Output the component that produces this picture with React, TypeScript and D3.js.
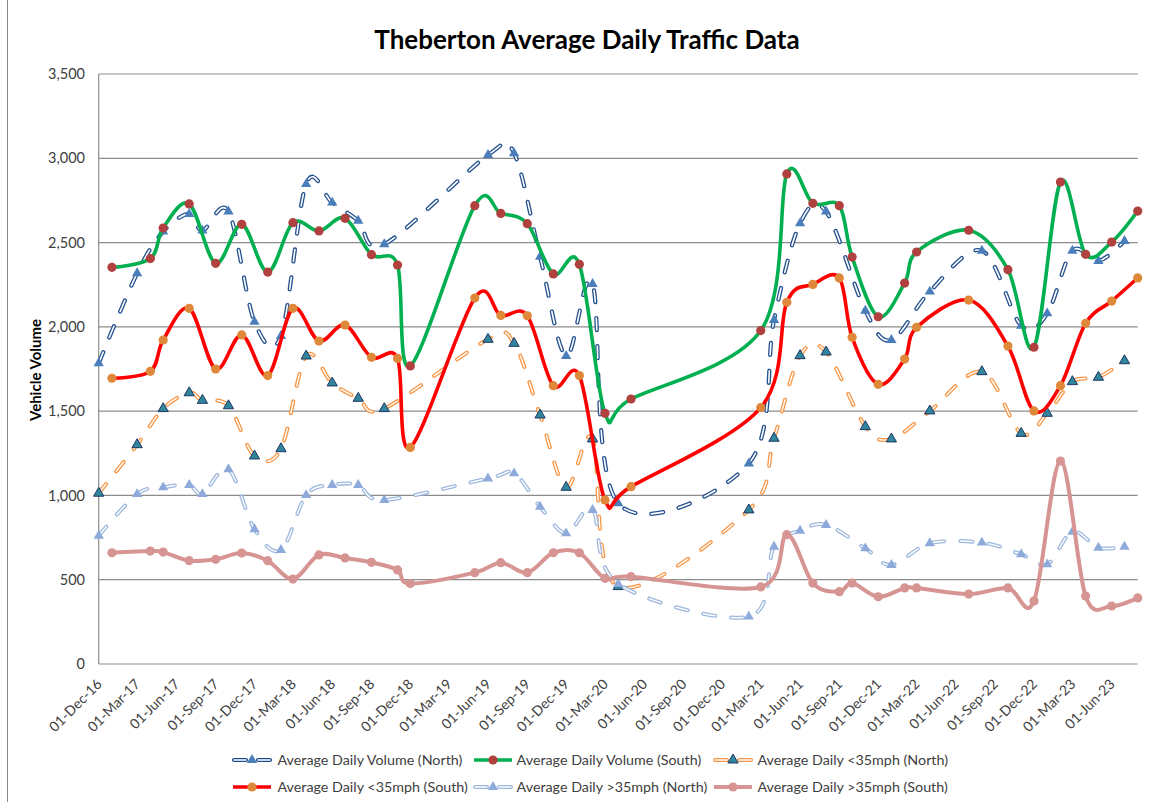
import React, { useEffect, useRef } from 'react';
import * as d3 from 'd3';

// survey dates (north counter and south counter were read on different months)
const northDates = [
  '2016-12-01', '2017-03-01', '2017-05-01', '2017-07-01', '2017-08-01', '2017-10-01',
  '2017-12-01', '2018-02-01', '2018-04-01', '2018-06-01', '2018-08-01', '2018-10-01',
  '2019-06-01', '2019-08-01', '2019-10-01', '2019-12-01', '2020-02-01', '2020-04-01',
  '2021-02-01', '2021-04-01', '2021-06-01', '2021-08-01', '2021-11-01', '2022-01-01',
  '2022-04-01', '2022-08-01', '2022-11-01', '2023-01-01', '2023-03-01', '2023-05-01',
  '2023-07-01'
];
const southDates = [
  '2017-01-01', '2017-04-01', '2017-05-01', '2017-07-01', '2017-09-01', '2017-11-01',
  '2018-01-01', '2018-03-01', '2018-05-01', '2018-07-01', '2018-09-01', '2018-11-01',
  '2018-12-01', '2019-05-01', '2019-07-01', '2019-09-01', '2019-11-01', '2020-01-01',
  '2020-03-01', '2020-05-01', '2021-03-01', '2021-05-01', '2021-07-01', '2021-09-01',
  '2021-10-01', '2021-12-01', '2022-02-01', '2022-03-01', '2022-07-01', '2022-10-01',
  '2022-12-01', '2023-02-01', '2023-04-01', '2023-06-01', '2023-08-01'
];

const northVolume = [1784, 2318, 2565, 2670, 2571, 2684, 2030, 1946, 2847, 2737, 2630, 2490,
  3020, 3030, 2416, 1827, 2254, 953, 1190, 2041, 2614, 2684, 2096, 1922, 2209, 2452, 2007,
  2080, 2452, 2391, 2509];
const southVolume = [2353, 2405, 2586, 2729, 2377, 2608, 2325, 2618, 2569, 2644, 2428, 2367,
  1768, 2719, 2673, 2612, 2314, 2371, 1487, 1572, 1978, 2907, 2733, 2719, 2414, 2060, 2260,
  2444, 2573, 2339, 1879, 2859, 2430, 2503, 2687];
const northUnder35 = [1013, 1301, 1515, 1609, 1564, 1532, 1234, 1277, 1827, 1667, 1576, 1515,
  1926, 1902, 1477, 1048, 1335, 459, 914, 1339, 1829, 1851, 1408, 1335, 1501, 1734, 1368,
  1487, 1675, 1701, 1799];
const southUnder35 = [1695, 1736, 1922, 2110, 1750, 1952, 1711, 2110, 1916, 2011, 1819, 1813,
  1285, 2171, 2068, 2066, 1651, 1711, 973, 1052, 1521, 2146, 2252, 2290, 1938, 1659, 1809,
  1997, 2159, 1886, 1501, 1651, 2021, 2153, 2290];
const northOver35 = [761, 1008, 1048, 1062, 1008, 1155, 799, 676, 1002, 1062, 1062, 973,
  1101, 1131, 933, 775, 914, 475, 281, 696, 791, 825, 686, 587, 716, 720, 651, 591, 785,
  690, 696];
const southOver35 = [660, 670, 664, 613, 621, 658, 613, 504, 647, 629, 603, 558, 477, 542,
  601, 542, 660, 660, 508, 518, 457, 767, 480, 429, 480, 399, 451, 451, 415, 451, 374, 1204,
  403, 344, 392];

const seriesNames = [
  'Average Daily Volume (North)',
  'Average Daily Volume (South)',
  'Average Daily <35mph (North)',
  'Average Daily <35mph (South)',
  'Average Daily >35mph (North)',
  'Average Daily >35mph (South)'
];
const yTicks = [0, 500, 1000, 1500, 2000, 2500, 3000, 3500];

const W = 1157;
const H = 802;
const FONT = 'Lato, "Open Sans", sans-serif';

type Style = {
  hollow: boolean;
  color: string;
  width: number;
  marker: 'triangle' | 'circle';
  markerFill: string;
  markerStroke: string | null;
};

const styles: Style[] = [
  { hollow: true, color: '#24508f', width: 4.2, marker: 'triangle', markerFill: '#4a7ebb', markerStroke: null },
  { hollow: false, color: '#00b050', width: 3.6, marker: 'circle', markerFill: '#b0413e', markerStroke: null },
  { hollow: true, color: '#f79646', width: 4, marker: 'triangle', markerFill: '#31859c', markerStroke: '#1f3864' },
  { hollow: false, color: '#ff0000', width: 3.6, marker: 'circle', markerFill: '#e0883a', markerStroke: null },
  { hollow: true, color: '#9db7dd', width: 4, marker: 'triangle', markerFill: '#8eaadb', markerStroke: null },
  { hollow: false, color: '#d69592', width: 4, marker: 'circle', markerFill: '#d69592', markerStroke: null }
];

const App: React.FC = () => {
  const ref = useRef<SVGSVGElement>(null);

  useEffect(() => {
    if (!ref.current) return;
    const svg = d3.select(ref.current);
    svg.selectAll('*').remove();

    const parse = d3.utcParse('%Y-%m-%d');
    const x = d3.scaleUtc()
      .domain([parse('2016-12-01')!, parse('2023-08-01')!])
      .range([98.7, 1137.7]);
    const y = d3.scaleLinear().domain([0, 3500]).range([664, 74]);

    // chart border
    svg.append('rect')
      .attr('x', 7.5).attr('y', -5).attr('width', 1170).attr('height', 830)
      .attr('fill', '#fff').attr('stroke', '#868686').attr('stroke-width', 1);

    // title
    svg.append('text')
      .attr('x', 587).attr('y', 49)
      .attr('text-anchor', 'middle')
      .attr('font-family', FONT).attr('font-weight', 'bold').attr('font-size', 26)
      .attr('fill', '#000')
      .text('Theberton Average Daily Traffic Data');

    // gridlines
    svg.append('g').selectAll('line')
      .data(yTicks)
      .enter().append('line')
      .attr('x1', x.range()[0]).attr('x2', x.range()[1])
      .attr('y1', d => y(d)).attr('y2', d => y(d))
      .attr('stroke', '#8c8c8c').attr('stroke-width', 1.2);

    svg.append('line')
      .attr('x1', x.range()[0]).attr('x2', x.range()[0])
      .attr('y1', y(0)).attr('y2', y(3500))
      .attr('stroke', '#8c8c8c').attr('stroke-width', 1.2);

    // y tick labels
    svg.append('g').selectAll('text')
      .data(yTicks)
      .enter().append('text')
      .attr('x', 85).attr('y', d => y(d))
      .attr('dy', '0.35em')
      .attr('text-anchor', 'end')
      .attr('font-family', FONT).attr('font-size', 14.5)
      .attr('fill', '#404040')
      .text(d => d3.format(',')(d));

    svg.append('text')
      .attr('transform', 'translate(41,370) rotate(-90)')
      .attr('text-anchor', 'middle')
      .attr('font-family', FONT).attr('font-weight', 'bold').attr('font-size', 15)
      .attr('fill', '#000')
      .text('Vehicle Volume');

    // x tick labels, every 3 months
    const xTicks = d3.utcMonth.range(parse('2016-12-01')!, parse('2023-06-02')!, 3);
    const fmt = d3.utcFormat('%d-%b-%y');
    svg.append('g').selectAll('text')
      .data(xTicks)
      .enter().append('text')
      .attr('transform', d => `translate(${x(d) + 4},${685}) rotate(-45)`)
      .attr('text-anchor', 'end')
      .attr('font-family', FONT).attr('font-size', 14)
      .attr('fill', '#404040')
      .text(d => fmt(d));

    const allValues = [northVolume, southVolume, northUnder35, southUnder35, northOver35, southOver35];
    const triangle = d3.symbol().type(d3.symbolTriangle).size(46);
    const line = d3.line<[number, number]>()
      .x(d => d[0]).y(d => d[1])
      .curve(d3.curveCardinal.tension(0));

    const drawLine = (g: d3.Selection<SVGGElement, unknown, null, undefined>, pts: [number, number][], s: Style) => {
      if (s.hollow) {
        g.append('path').attr('d', line(pts)!)
          .attr('fill', 'none').attr('stroke', s.color).attr('stroke-width', s.width)
          .attr('stroke-dasharray', '12 16').attr('stroke-linecap', 'round');
        g.append('path').attr('d', line(pts)!)
          .attr('fill', 'none').attr('stroke', '#fff').attr('stroke-width', s.width - 2.6)
          .attr('stroke-dasharray', '12 16').attr('stroke-linecap', 'round');
      } else {
        g.append('path').attr('d', line(pts)!)
          .attr('fill', 'none').attr('stroke', s.color).attr('stroke-width', s.width)
          .attr('stroke-linejoin', 'round');
      }
    };

    const drawMarkers = (g: d3.Selection<SVGGElement, unknown, null, undefined>, pts: [number, number][], s: Style) => {
      if (s.marker === 'circle') {
        g.selectAll('circle.m').data(pts).enter().append('circle')
          .attr('class', 'm')
          .attr('cx', d => d[0]).attr('cy', d => d[1]).attr('r', 4.6)
          .attr('fill', s.markerFill);
      } else {
        g.selectAll('path.m').data(pts).enter().append('path')
          .attr('class', 'm')
          .attr('d', triangle()!)
          .attr('transform', d => `translate(${d[0]},${d[1]})`)
          .attr('fill', s.markerFill)
          .attr('stroke', s.markerStroke ?? 'none')
          .attr('stroke-width', s.markerStroke ? 1 : 0);
      }
    };

    allValues.forEach((vals, i) => {
      const dates = i % 2 === 0 ? northDates : southDates;
      const pts: [number, number][] = vals.map((v, j) => [x(parse(dates[j])!), y(v)]);
      const g = svg.append('g');
      drawLine(g, pts, styles[i]);
      drawMarkers(g, pts, styles[i]);
    });

    // legend
    const legendRows = [760, 787];
    const symX = [232, 473, 713];
    const textX = [277.5, 516.6, 757.4];
    seriesNames.forEach((name, i) => {
      const row = Math.floor(i / 3);
      const col = i % 3;
      const s = styles[i];
      const cy = legendRows[row];
      const g = svg.append('g');
      const x0 = symX[col] + 2;
      const x1 = symX[col] + 38;
      if (s.hollow) {
        g.append('path').attr('d', `M${x0},${cy}H${x1}`)
          .attr('stroke', s.color).attr('stroke-width', s.width)
          .attr('stroke-dasharray', '12 12').attr('stroke-linecap', 'round');
        g.append('path').attr('d', `M${x0},${cy}H${x1}`)
          .attr('stroke', '#fff').attr('stroke-width', s.width - 2.6)
          .attr('stroke-dasharray', '12 12').attr('stroke-linecap', 'round');
      } else {
        g.append('path').attr('d', `M${x0 - 1},${cy}H${x1 + 1}`)
          .attr('stroke', s.color).attr('stroke-width', s.width);
      }
      drawMarkers(g, [[symX[col] + 20, cy]], s);
      g.append('text')
        .attr('x', textX[col]).attr('y', cy).attr('dy', '0.35em')
        .attr('font-family', FONT).attr('font-size', 14.3)
        .attr('fill', '#404040')
        .text(name);
    });
  }, []);

  return (
    <svg
      ref={ref}
      width={W}
      height={H}
      style={{ position: 'absolute', left: 0, top: 0, display: 'block' }}
    />
  );
};

export default App;
